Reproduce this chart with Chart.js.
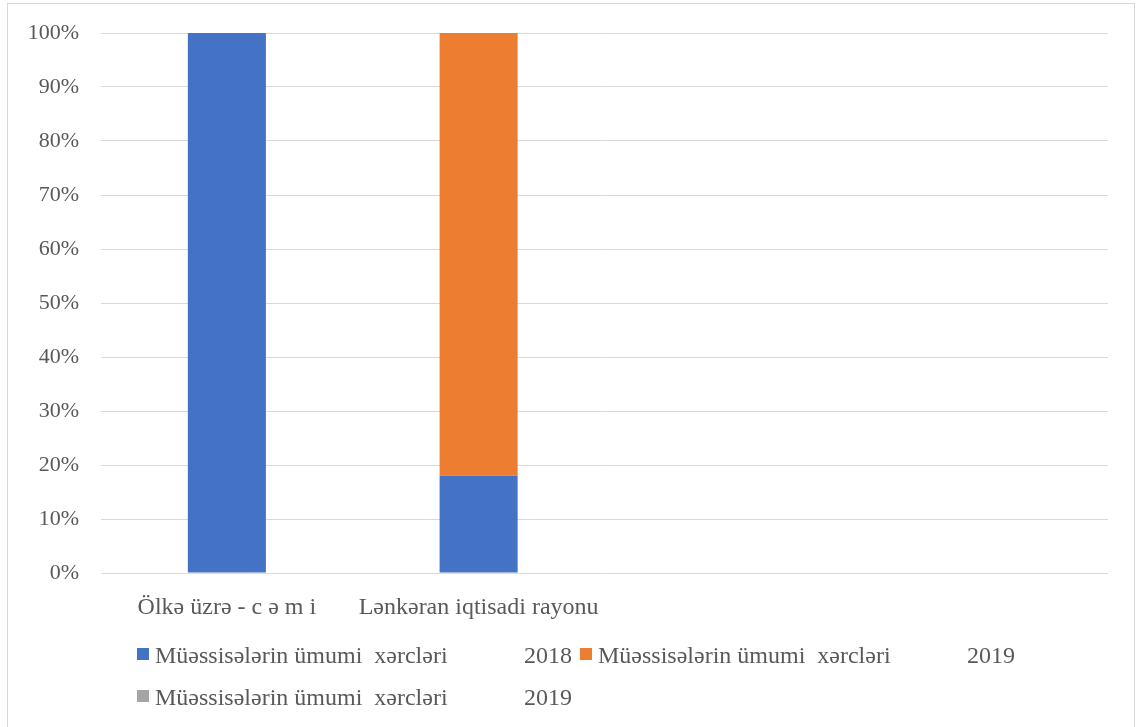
<!DOCTYPE html>
<html>
<head>
<meta charset="utf-8">
<script src="https://cdn.jsdelivr.net/npm/chart.js@4.4.1/dist/chart.umd.min.js"></script>
<style>
  html, body { margin: 0; padding: 0; background: #ffffff; overflow: hidden; }
  #wrap { position: relative; width: 1138px; height: 727px; }
  #frame {
    position: absolute; left: 7px; top: 3px; width: 1128px; height: 760px;
    border: 1px solid #d9d9d9; box-sizing: border-box;
  }
  #chart { position: absolute; left: 0; top: 0; }
  .legend-item { position: absolute; height: 28px; white-space: pre;
    font-family: "Liberation Serif", "Times New Roman", serif; font-size: 24px; color: #595959; line-height: 28px; }
  .legend-item .sw { position: absolute; left: 0; top: 7px; width: 12px; height: 12px; }
  .legend-item .txt { position: absolute; left: 18px; top: 0; }
  .legend-item .yr { position: absolute; top: 0; }
</style>
</head>
<body>
<div id="wrap">
  <div id="frame"></div>
  <canvas id="chart" width="1138" height="727"></canvas>
  <div id="legend"></div>
</div>
<script>
// Categories along the x axis (last two slots are empty)
const categories = ["Ölkə üzrə - c ə m i", "Lənkəran iqtisadi rayonu", "", ""];

// Share of total expenses per series, in percent
const seriesLabels = ["Müəssisələrin ümumi  xərcləri", "Müəssisələrin ümumi  xərcləri", "Müəssisələrin ümumi  xərcləri"];
const seriesYears = ["2018", "2019", "2019"];
const values2018 = [100, 18, null, null];
const values2019 = [0, 82, null, null];
const values2019b = [0, 0, null, null];

const yTicks = [0, 10, 20, 30, 40, 50, 60, 70, 80, 90, 100];

const colors = ["#4472C4", "#ED7D31", "#A5A5A5"];
const fontFamily = '"Liberation Serif", "Times New Roman", serif';
const textColor = "#595959";

const datasets = [values2018, values2019, values2019b].map((vals, i) => ({
  label: seriesLabels[i] + " " + seriesYears[i],
  data: vals,
  backgroundColor: colors[i],
  borderWidth: 0,
  stack: "s",
  categoryPercentage: 1.0,
  barPercentage: 0.31
}));

new Chart(document.getElementById("chart"), {
  type: "bar",
  data: { labels: categories, datasets },
  options: {
    responsive: false,
    animation: false,
    layout: { padding: { top: 33, right: 30, left: 0, bottom: 0 } },
    plugins: { legend: { display: false }, tooltip: { enabled: false }, title: { display: false } },
    scales: {
      x: {
        stacked: true,
        grid: { display: false },
        border: { display: false },
        ticks: {
          color: textColor, padding: 12, maxRotation: 0, autoSkip: false,
          font: { family: fontFamily, size: 24 }
        },
        afterFit: (scale) => { scale.height = 154; scale.paddingLeft = 0; scale.paddingRight = 0; }
      },
      y: {
        stacked: true,
        min: 0, max: 100,
        afterBuildTicks: (scale) => { scale.ticks = yTicks.map(v => ({ value: v })); },
        grid: { color: "#d9d9d9", lineWidth: 1, drawTicks: false },
        border: { display: false },
        ticks: {
          color: textColor, padding: 22,
          font: { family: fontFamily, size: 22 },
          callback: (v) => v + "%"
        },
        afterFit: (scale) => { scale.width = 101; scale.paddingTop = 0; scale.paddingBottom = 0; }
      }
    }
  }
});

// Legend laid out in two rows beneath the plot
const legend = document.getElementById("legend");
const legendSlots = [
  { top: 641, left: 137 },
  { top: 641, left: 580 },
  { top: 683, left: 137 }
];
seriesLabels.forEach((lbl, i) => {
  const slot = legendSlots[i];
  const item = document.createElement("div");
  item.className = "legend-item";
  item.style.left = slot.left + "px";
  item.style.top = slot.top + "px";
  item.style.width = "440px";
  item.innerHTML =
    '<span class="sw" style="background:' + colors[i] + '"></span>' +
    '<span class="txt"></span><span class="yr" style="left:387px"></span>';
  item.querySelector(".txt").textContent = lbl;
  item.querySelector(".yr").textContent = seriesYears[i];
  legend.appendChild(item);
});
</script>
</body>
</html>
